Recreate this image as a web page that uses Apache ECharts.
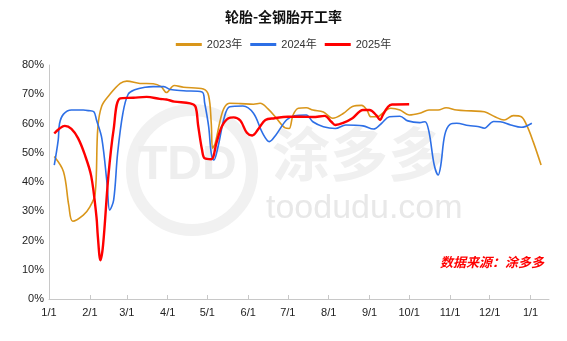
<!DOCTYPE html>
<html>
<head>
<meta charset="utf-8">
<script src="https://cdn.jsdelivr.net/npm/echarts@6/dist/echarts.min.js"></script>
<style>html,body{margin:0;padding:0;background:#fff;}#c{width:567px;height:341px;}</style>
</head>
<body>
<div id="c"></div>
<script>
// x = day of year (0 = Jan 1)
const monthStarts = [0, 31, 59, 90, 120, 151, 181, 212, 243, 273, 304, 334, 365];
const monthLabels = ['1/1', '2/1', '3/1', '4/1', '5/1', '6/1', '7/1', '8/1', '9/1', '10/1', '11/1', '12/1', '1/1'];
const yTicks = [0, 10, 20, 30, 40, 50, 60, 70, 80];

const days2023 = [4, 11, 15, 18, 26, 31, 35, 37, 40, 46, 54, 59, 69, 79, 85, 89, 95, 102, 117, 121, 123, 124, 126, 130, 133, 137, 145, 155, 160, 166, 172, 179, 182, 185, 189, 195, 200, 208, 215, 223, 230, 237, 241, 244, 249, 254, 259, 266, 273, 281, 288, 295, 301, 309, 320, 330, 338, 345, 352, 358, 362, 367, 373];
const v2023 = [48.7, 43.5, 32, 26.6, 28.7, 31.5, 36, 58.5, 66, 69.9, 73.7, 74.5, 73.7, 73.6, 72.6, 70.6, 73, 72.4, 71.8, 69.5, 60, 51.5, 53.3, 61.5, 65.5, 66.9, 66.8, 66.6, 66.9, 65, 62, 58.5, 58.3, 62.9, 65.2, 65.4, 64.6, 63.9, 61.8, 63.4, 65.8, 66.2, 64.6, 62.3, 62.3, 64, 65.2, 64.6, 62.9, 63.5, 64.6, 64.6, 65.4, 64.6, 64.3, 64, 62.3, 61.2, 62.7, 62.3, 59.5, 53.8, 45.8];

const days2024 = [4, 7, 8, 11, 17, 26, 30, 34, 36, 40, 44, 46, 49, 52, 56, 60, 65, 73, 79, 87, 92, 102, 116, 118, 121, 123, 125, 128, 133, 137, 147, 155, 162, 167, 172, 180, 186, 195, 200, 208, 217, 225, 238, 246, 252, 258, 266, 272, 281, 285, 288, 292, 295, 297, 300, 304, 309, 318, 325, 330, 337, 342, 350, 358, 366];
const v2024 = [45.8, 54.4, 60, 63.2, 64.6, 64.6, 64.4, 64, 61.2, 55, 39.5, 30.4, 33.8, 49.8, 63.5, 70, 71.5, 72.4, 72.6, 72.6, 71.6, 71.2, 70.8, 67, 59, 49.8, 47.5, 51.8, 62.3, 65.7, 66, 63.5, 56.6, 53.8, 56.1, 61.2, 62.6, 62.9, 60.6, 58.9, 58.3, 59.5, 59.2, 58.1, 60, 62.3, 62.5, 60.9, 60.3, 60.6, 57.2, 45.8, 42.4, 45.8, 56.1, 59.7, 60.1, 59.3, 59, 58.4, 60.7, 60.6, 59.5, 58.7, 60.1];

const days2025 = [4, 8, 12, 17, 22, 27, 32, 36, 37, 39, 41, 45, 49, 54, 64, 74, 84, 89, 95, 107, 111, 113, 116, 118, 123, 127, 131, 136, 140, 145, 150, 154, 159, 164, 171, 181, 191, 200, 209, 214, 217, 223, 230, 238, 243, 248, 251, 253, 257, 260, 273];
const v2025 = [56.6, 58.3, 59.2, 58.2, 55, 49.5, 42, 28, 21.5, 13.2, 18.5, 42, 58, 68.6, 68.8, 69.1, 68.4, 68.2, 67.5, 66.9, 65.8, 59.5, 51, 48.1, 47.8, 53.5, 59, 61.8, 62.1, 61, 56.8, 55.9, 58.3, 61.2, 61.8, 62.3, 62.3, 62.2, 62.6, 60.6, 59.5, 60.2, 61.8, 64.6, 64.6, 62.9, 61.2, 62.9, 65.7, 66.5, 66.6];

const seriesNames = ['2023年', '2024年', '2025年'];
const seriesColors = ['#D9961A', '#2D6FE6', '#FF0000'];

const pair = (ds, vs) => ds.map((d, i) => [d, vs[i]]);
const allData = [pair(days2023, v2023), pair(days2024, v2024), pair(days2025, v2025)];
const widths = [1.6, 1.6, 2.4];

const chart = echarts.init(document.getElementById('c'));
chart.setOption({
  animation: false,
  backgroundColor: '#fff',
  title: {
    text: '轮胎-全钢胎开工率',
    left: 'center',
    top: 5,
    textStyle: { fontSize: 14, fontWeight: 'bold', color: '#111', fontFamily: 'Noto Sans CJK SC' }
  },
  legend: {
    top: 34,
    left: 'center',
    icon: 'rect',
    itemWidth: 26,
    itemHeight: 3,
    itemGap: 8,
    textStyle: { fontSize: 11, color: '#333', fontFamily: 'Liberation Sans, Noto Sans CJK SC' },
    data: seriesNames
  },
  graphic: [
    { type: 'circle', z: -10, shape: { cx: 192, cy: 170, r: 60 }, style: { fill: 'none', stroke: '#f1f1f1', lineWidth: 12 } },
    { type: 'text', z: -10, left: 138, top: 142, style: { text: 'TDD', fontSize: 48, fontWeight: 'bold', fill: '#eeeeee', fontFamily: 'Liberation Sans' } },
    { type: 'text', z: -10, left: 272, top: 125, style: { text: '涂多多', fontSize: 58, fontWeight: 'bold', fill: '#f0f0f0', fontFamily: 'Noto Sans CJK SC' } },
    { type: 'text', z: -10, left: 266, top: 192, style: { text: 'toodudu.com', fontSize: 34, fill: '#e8e8e8', fontFamily: 'Liberation Sans' } },
    { type: 'text', z: 10, left: 440, top: 256, style: { text: '数据来源：涂多多', fontSize: 13, fontWeight: 'bold', fontStyle: 'italic', fill: '#FF0000', fontFamily: 'Noto Sans CJK SC' } }
  ],
  grid: { left: 49, right: 18, top: 65, bottom: 42, containLabel: false },
  xAxis: {
    type: 'value',
    min: 0,
    max: 379,
    splitLine: { show: false },
    axisLine: { show: true, lineStyle: { color: '#c8c8c8', width: 1 } },
    axisTick: { show: true, inside: true, length: 4, lineStyle: { color: '#c8c8c8' }, customValues: monthStarts },
    axisLabel: {
      customValues: monthStarts,
      fontSize: 11,
      color: '#222',
      margin: 8,
      fontFamily: 'Liberation Sans',
      formatter: v => monthLabels[monthStarts.indexOf(v)] || ''
    }
  },
  yAxis: {
    type: 'value',
    min: 0,
    max: 80,
    interval: 10,
    splitLine: { show: false },
    axisLine: { show: true, lineStyle: { color: '#c8c8c8', width: 1 } },
    axisTick: { show: false },
    axisLabel: { fontSize: 11, color: '#222', margin: 5, fontFamily: 'Liberation Sans', formatter: v => (yTicks.includes(v) ? v + '%' : '') }
  },
  series: allData.map((d, i) => ({
    name: seriesNames[i],
    type: 'line',
    data: d,
    smooth: 0.35,
    showSymbol: false,
    z: 2 + i,
    itemStyle: { color: seriesColors[i] },
    lineStyle: { color: seriesColors[i], width: widths[i] }
  }))
});
</script>
</body>
</html>
